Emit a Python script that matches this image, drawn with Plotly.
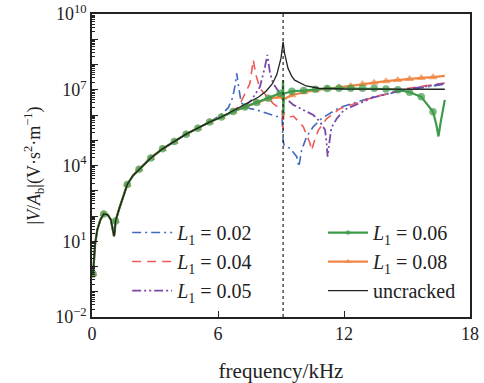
import numpy as np
import plotly.graph_objects as go

# ---------------- data (log10 of |V/A_b|) ----------------
# L1 = 0.06 (green, circle markers)
F_006 = [0.05, 0.15, 0.25, 0.4, 0.56, 0.75, 0.9, 1.0, 1.05, 1.09, 1.12, 1.3, 1.45, 1.68, 1.95,
         2.24, 2.8, 3.36, 3.92, 4.48, 5.04, 5.6, 6.16, 6.72, 7.28, 7.84, 8.4, 8.96, 9.08, 9.1,
         9.11, 9.14, 9.52, 10.08, 10.64, 11.2, 11.76, 12.32, 12.88, 13.44, 14.0, 14.56, 15.12,
         15.68, 16.24, 16.4, 16.5, 16.6, 16.8]
E_006 = [-0.3, 0.9, 1.45, 1.85, 2.08, 2.05, 1.85, 1.5, 1.2, 1.45, 1.8, 2.3, 2.7, 3.25, 3.6,
         3.85, 4.3, 4.66, 4.95, 5.24, 5.48, 5.72, 5.92, 6.14, 6.32, 6.5, 6.66, 6.86, 6.9, 7.38,
         6.0, 6.85, 6.94, 6.97, 7.02, 7.05, 7.06, 7.06, 7.06, 7.06, 7.03, 7.0, 6.9,
         6.72, 6.13, 5.6, 5.15, 5.7, 6.6]

# L1 = 0.08 (orange, triangle markers)
F_008 = [0.05, 0.15, 0.25, 0.4, 0.56, 0.75, 0.9, 1.0, 1.05, 1.09, 1.12, 1.3, 1.45, 1.68, 1.95,
         2.24, 2.8, 3.36, 3.92, 4.48, 5.04, 5.6, 6.16, 6.72, 7.28, 7.84, 8.4, 8.96, 9.1, 9.52,
         10.08, 10.64, 11.2, 11.76, 12.32, 12.88, 13.44, 14.0, 14.56, 15.12, 15.68, 16.24, 16.8]
E_008 = [-0.3, 0.9, 1.45, 1.85, 2.08, 2.05, 1.85, 1.5, 1.2, 1.45, 1.8, 2.3, 2.7, 3.25, 3.6,
         3.85, 4.3, 4.66, 4.95, 5.24, 5.48, 5.72, 5.92, 6.14, 6.32, 6.5, 6.65, 6.72, 6.62, 6.78,
         6.9, 6.98, 7.05, 7.1, 7.15, 7.23, 7.28, 7.34, 7.39, 7.43, 7.47, 7.5, 7.55]

# common low-frequency part for the remaining curves
F_BASE = [0.05, 0.15, 0.25, 0.4, 0.56, 0.75, 0.9, 1.0, 1.05, 1.09, 1.12, 1.3, 1.45, 1.68, 1.95,
          2.24, 2.8, 3.36, 3.92, 4.48, 5.04, 5.6]
E_BASE = [-0.3, 0.9, 1.45, 1.85, 2.08, 2.05, 1.85, 1.5, 1.2, 1.45, 1.8, 2.3, 2.7, 3.25, 3.6,
          3.85, 4.3, 4.66, 4.95, 5.24, 5.48, 5.72]

# L1 = 0.02 (blue, dash-dot)
F_002 = [5.94, 6.2, 6.5, 6.7, 6.82, 6.89, 6.95, 7.0, 7.1, 7.3, 7.84, 8.6, 9.05, 9.1, 9.15,
         9.43, 9.75, 9.85, 9.98, 10.22, 10.54, 10.94, 11.49, 11.8, 13.4, 15.0, 16.8]
E_002 = [5.9, 6.05, 6.3, 6.7, 7.2, 7.65, 7.3, 7.0, 6.5, 6.3, 6.2, 6.0, 5.87, 5.0, 4.8,
         4.68, 4.35, 3.95, 4.6, 5.14, 5.54, 5.87, 6.13, 6.3, 6.72, 6.99, 7.22]

# L1 = 0.04 (red, dashed)
F_004 = [6.16, 6.72, 7.0, 7.2, 7.52, 7.68, 7.8, 8.0, 8.3, 8.63, 9.05, 9.1, 9.13, 9.43, 9.6,
         10.06, 10.38, 10.46, 10.6, 10.78, 11.17, 11.8, 13.4, 15.0, 16.8]
E_004 = [5.92, 6.16, 6.35, 6.72, 7.25, 8.18, 7.6, 7.05, 6.75, 6.45, 6.2, 5.4, 6.1, 5.93, 5.95,
         5.54, 4.88, 4.6, 5.0, 5.4, 5.85, 6.25, 6.7, 7.05, 7.27]

# L1 = 0.05 (purple, dash-dot-dot)
F_005 = [6.16, 6.72, 7.3, 7.6, 8.0, 8.24, 8.35, 8.48, 8.63, 8.95, 9.59, 10.06, 10.54, 10.86,
         11.1, 11.17, 11.22, 11.3, 11.4, 11.65, 12.0, 13.4, 15.0, 16.8]
E_005 = [5.92, 6.14, 6.35, 6.6, 7.12, 7.92, 8.38, 7.65, 7.25, 6.85, 6.4, 6.2, 6.0, 5.73,
         5.4, 4.9, 4.35, 4.9, 5.5, 5.85, 6.2, 6.7, 7.02, 7.25]

# uncracked (black)
F_UNC = [6.16, 6.72, 7.05, 7.5, 7.95, 8.3, 8.6, 8.8, 8.9, 9.0, 9.05, 9.1, 9.17, 9.25, 9.33,
         9.5, 9.65, 10.2, 10.8, 12.0, 14.0, 16.8]
E_UNC = [5.92, 6.16, 6.33, 6.5, 6.72, 6.95, 7.25, 7.6, 7.9, 8.25, 8.57, 8.9, 8.45, 8.1, 7.86,
         7.55, 7.38, 7.15, 7.06, 7.03, 7.02, 7.02]

RESONANCE_F = 9.1          # dotted reference line (kHz)
MARKER_STEP = 0.56         # marker spacing along L1=0.06 / 0.08 curves (kHz)

X_TICKS = [0, 6, 12, 18]
Y_DECADES = list(range(-2, 11))
Y_LABELLED = [-2, 1, 4, 7, 10]

# ---------------- figure ----------------
SERIF = "Liberation Serif, Times New Roman, serif"


def full(f_part, e_part):
    f = list(F_BASE) + list(f_part)
    e = list(E_BASE) + list(e_part)
    return np.array(f), 10.0 ** np.array(e)


def marker_sizes(freqs, size):
    freqs = np.asarray(freqs)
    k = freqs / MARKER_STEP
    on = (np.abs(k - np.round(k)) < 1e-6) & (freqs <= 16.3)
    on[0] = True
    return np.where(on, size, 0)


fig = go.Figure()

f, v = full(F_002, E_002)
fig.add_trace(go.Scatter(x=f, y=v, mode="lines", name="<i>L</i><sub>1</sub> = 0.02",
                         line=dict(color="#4169c0", width=1.6, dash="9px,4px,2px,4px"),
                         legend="legend"))
f, v = full(F_004, E_004)
fig.add_trace(go.Scatter(x=f, y=v, mode="lines", name="<i>L</i><sub>1</sub> = 0.04",
                         line=dict(color="#f05a5a", width=1.6, dash="9px,6px"),
                         legend="legend"))
f, v = full(F_005, E_005)
fig.add_trace(go.Scatter(x=f, y=v, mode="lines", name="<i>L</i><sub>1</sub> = 0.05",
                         line=dict(color="#7a48a8", width=1.8, dash="9px,3px,2px,3px,2px,3px"),
                         legend="legend"))

f8 = np.array(F_008)
fig.add_trace(go.Scatter(x=f8, y=10.0 ** np.array(E_008), mode="lines+markers",
                         name="<i>L</i><sub>1</sub> = 0.08",
                         line=dict(color="#ee8644", width=2.2),
                         marker=dict(symbol="triangle-up", size=marker_sizes(f8, 8),
                                     color="#ee8644", line=dict(width=0)),
                         legend="legend2", legendrank=2))
f6 = np.array(F_006)
fig.add_trace(go.Scatter(x=f6, y=10.0 ** np.array(E_006), mode="lines+markers",
                         name="<i>L</i><sub>1</sub> = 0.06",
                         line=dict(color="#3c9a48", width=2.2),
                         marker=dict(symbol="circle", size=marker_sizes(f6, 7.5),
                                     color="#3c9a48", line=dict(width=0)),
                         legend="legend2", legendrank=1))
f, v = full(F_UNC, E_UNC)
fig.add_trace(go.Scatter(x=f, y=v, mode="lines", name="uncracked",
                         line=dict(color="#222222", width=1.3),
                         legend="legend2", legendrank=3))

fig.add_shape(type="line", xref="x", yref="paper", x0=RESONANCE_F, x1=RESONANCE_F,
              y0=0, y1=1, line=dict(color="#222222", width=1.2, dash="dot"))

ytickvals = [10.0 ** d for d in Y_DECADES]
yticktext = [("10<sup>%s</sup>" % (str(d).replace("-", "\u2212"))) if d in Y_LABELLED else ""
             for d in Y_DECADES]
yminor = [m * 10.0 ** d for d in Y_DECADES[:-1] for m in range(2, 10)]

fig.update_layout(
    width=484, height=383,
    margin=dict(l=92, r=14, t=14, b=66),
    paper_bgcolor="white", plot_bgcolor="white",
    font=dict(family=SERIF, size=18, color="#222222"),
    xaxis=dict(range=[0, 18], tickvals=X_TICKS, ticks="inside", ticklen=6, tickwidth=1.2,
               tickcolor="#222222", showline=True, linecolor="#222222", linewidth=1.6,
               mirror=True, showgrid=False, zeroline=False, automargin=False,
               title=dict(text="frequency/kHz", font=dict(size=21), standoff=22),
               tickfont=dict(size=18)),
    yaxis=dict(type="log", range=[-2, 10], tickvals=ytickvals, ticktext=yticktext,
               ticks="inside", ticklen=6, tickwidth=1.2, tickcolor="#222222",
               minor=dict(tickvals=yminor, ticks="inside", ticklen=3, tickwidth=1,
                          tickcolor="#222222", showgrid=False),
               showline=True, linecolor="#222222", linewidth=1.6, mirror=True,
               showgrid=False, zeroline=False, automargin=False,
               title=dict(text="|<i>V</i>/<i>A</i><sub>b</sub>|(V\u00b7s<sup>2</sup>\u00b7m<sup>\u22121</sup>)",
                          font=dict(size=18), standoff=10),
               tickfont=dict(size=18)),
    legend=dict(x=0.093, y=0.343, xanchor="left", yanchor="top", bgcolor="rgba(0,0,0,0)",
                font=dict(size=20), tracegroupgap=0, itemwidth=40),
    legend2=dict(x=0.611, y=0.343, xanchor="left", yanchor="top", bgcolor="rgba(0,0,0,0)",
                 font=dict(size=20), tracegroupgap=0, itemwidth=40),
    showlegend=True,
)

# remove the browser's default 8px body margin so the figure fills the window exactly
fig.write_html("out.html", config={"displayModeBar": False},
               post_script="document.body.style.margin='0px';")
